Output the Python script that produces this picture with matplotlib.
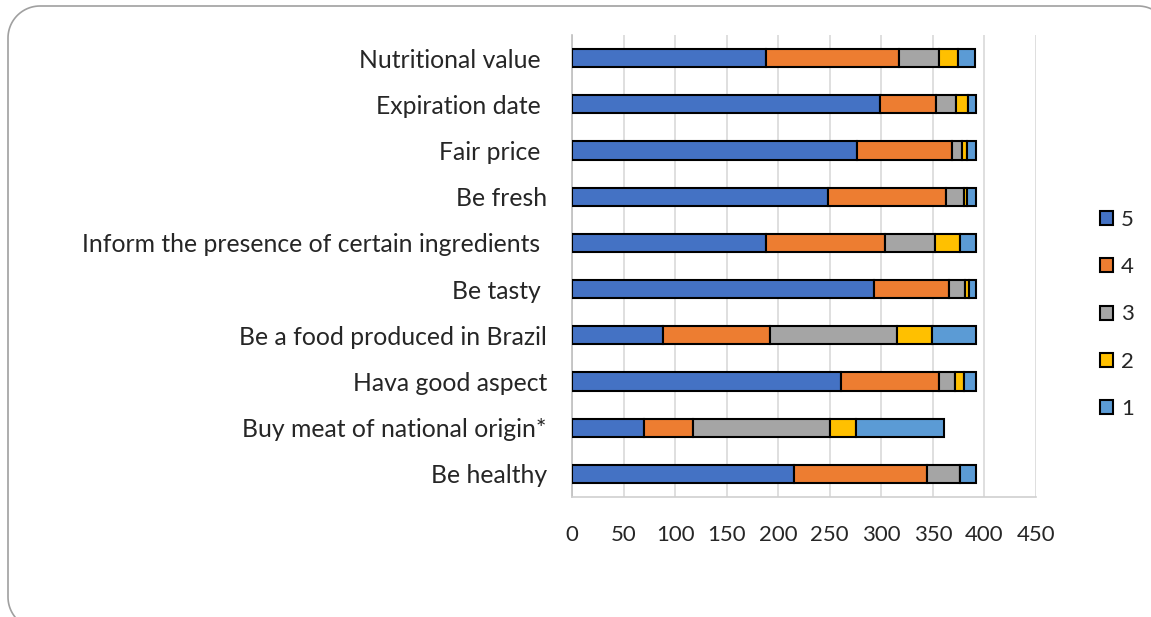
import matplotlib
matplotlib.use("Agg")
import matplotlib.pyplot as plt
from matplotlib.patches import PathPatch
from matplotlib.path import Path
from matplotlib.transforms import Affine2D
import numpy as np

categories = ["Be healthy", "Buy meat of national origin*", "Hava good aspect",
              "Be a food produced in Brazil", "Be tasty ",
              "Inform the presence of certain ingredients ", "Be fresh",
              "Fair price ", "Expiration date ", "Nutritional value "]
s5 = [215, 70, 261, 88, 293, 188, 248, 276, 299, 188]
s4 = [129, 47, 95, 104, 73, 116, 115, 93, 54, 129]
s3 = [32, 133, 15, 123, 15, 48, 17, 9, 19, 39]
s2 = [0, 25, 9, 34, 4, 24, 3, 5, 12, 18]
s1 = [16, 86, 12, 43, 7, 16, 9, 9, 8, 17]
series_names = ["5", "4", "3", "2", "1"]
colors = ["#4472C4", "#ED7D31", "#A5A5A5", "#FFC000", "#5B9BD5"]
xticks = [0, 50, 100, 150, 200, 250, 300, 350, 400, 450]

plt.rcParams['font.family'] = ['Lato', 'DejaVu Sans']

W, H = 1151, 617
fig = plt.figure(figsize=(W / 100, H / 100), dpi=100)

# rounded border in pixel coordinates (origin top-left)
def rounded_rect(x0, y0, x1, y1, r, n=24):
    pts = []
    corners = [(x1 - r, y0 + r, -90, 0), (x1 - r, y1 - r, 0, 90),
               (x0 + r, y1 - r, 90, 180), (x0 + r, y0 + r, 180, 270)]
    for cx, cy, a0, a1 in corners:
        for t in np.linspace(np.radians(a0), np.radians(a1), n):
            pts.append((cx + r * np.cos(t), cy + r * np.sin(t)))
    pts.append(pts[0])
    return Path(pts)

px2fig = Affine2D().scale(1 / W, -1 / H).translate(0, 1) + fig.transFigure
border = PathPatch(rounded_rect(8, 6, 1170, 629, 32), fill=False,
                   edgecolor="#A0A0A0", linewidth=1.2, transform=px2fig)
fig.add_artist(border)

ax = fig.add_axes([572 / W, (H - 497) / H, (1036 - 572) / W, (497 - 35) / H])

y = np.arange(len(categories))
left = np.zeros(len(categories))
for vals, name, col in zip([s5, s4, s3, s2, s1], series_names, colors):
    v = np.array(vals, dtype=float)
    ax.barh(y, v, left=left, height=0.39, color=col, edgecolor="black",
            linewidth=1.5, label=name, zorder=3)
    left += v

ax.set_xlim(0, 450)
ax.set_ylim(-0.5, len(categories) - 0.5)
ax.set_xticks(xticks)
ax.set_xticklabels([str(t) for t in xticks], fontsize=16, color="#262626")
ax.set_yticks(y)
ax.set_yticklabels(categories, fontsize=17.8, color="#262626")
ax.tick_params(axis="both", length=0)
ax.tick_params(axis="x", pad=20)
ax.tick_params(axis="y", pad=18)
ax.grid(axis="x", color="#D9D9D9", linewidth=1.2, zorder=0)
for s in ["top", "right"]:
    ax.spines[s].set_visible(False)
ax.spines["left"].set_color("#BFBFBF")
ax.spines["left"].set_linewidth(1.2)
ax.spines["bottom"].set_color("#D0D0D0")
ax.spines["bottom"].set_linewidth(1.2)

handles, labels = ax.get_legend_handles_labels()
leg = fig.legend(handles, labels, loc="center left", bbox_to_anchor=(0.938, 0.4903),
                 bbox_transform=fig.transFigure, frameon=False,
                 fontsize=16, handlelength=0.6, handleheight=0.6,
                 handletextpad=0.36, labelspacing=1.23, labelcolor="#262626")

fig.savefig("out.png", dpi=100)
